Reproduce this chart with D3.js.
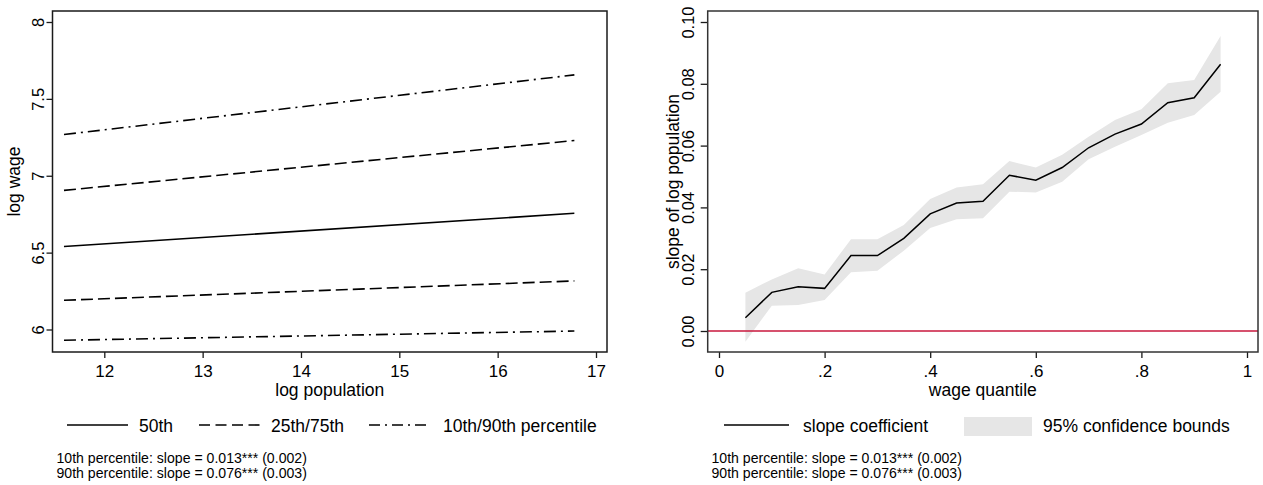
<!DOCTYPE html>
<html>
<head>
<meta charset="utf-8">
<script src="https://cdn.jsdelivr.net/npm/d3@7"></script>
<style>
  body { margin: 0; background: #fff; }
  svg text { font-family: "Liberation Sans", Arial, Helvetica, sans-serif; fill: #000; }
</style>
</head>
<body>
<svg id="chart" width="1263" height="485"></svg>
<script>
// left panel: fitted percentile lines over the log population range
var popRange = [11.59, 16.78];
var p10 = [5.93, 5.99];
var p25 = [6.19, 6.316];
var p50 = [6.54, 6.756];
var p75 = [6.905, 7.229];
var p90 = [7.268, 7.656];
var leftXTicks = [12, 13, 14, 15, 16, 17];
var leftYTicks = [6, 6.5, 7, 7.5, 8];

// right panel: slope by wage quantile with 95% bounds
var quantiles = [0.05, 0.10, 0.15, 0.20, 0.25, 0.30, 0.35, 0.40, 0.45, 0.50,
                 0.55, 0.60, 0.65, 0.70, 0.75, 0.80, 0.85, 0.90, 0.95];
var slope = [0.0043, 0.0125, 0.0143, 0.0138, 0.0244, 0.0244, 0.0300, 0.0379, 0.0414, 0.0420,
             0.0504, 0.0488, 0.0529, 0.0593, 0.0637, 0.0670, 0.0739, 0.0755, 0.0863];
var upper = [0.0124, 0.0167, 0.0203, 0.0183, 0.0297, 0.0297, 0.0343, 0.0427, 0.0464, 0.0475,
             0.0550, 0.0529, 0.0570, 0.0629, 0.0683, 0.0718, 0.0802, 0.0812, 0.0955];
var lower = [-0.0035, 0.0082, 0.0084, 0.0100, 0.0190, 0.0195, 0.0260, 0.0333, 0.0362, 0.0365,
             0.0451, 0.0448, 0.0483, 0.0556, 0.0596, 0.0634, 0.0674, 0.0699, 0.0774];
var rightXTicks = [0, 0.2, 0.4, 0.6, 0.8, 1];
var rightYTicks = [0, 0.02, 0.04, 0.06, 0.08, 0.10];

var notes = ["10th percentile: slope = 0.013*** (0.002)",
             "90th percentile: slope = 0.076*** (0.003)"];

var svg = d3.select("#chart");
var ink = "#1a1a1a";

// scales (box edges are a bit wider than the tick range, like stata)
var xL = d3.scaleLinear().domain([12, 17]).range([104.3, 596]);
var yL = d3.scaleLinear().domain([6, 8]).range([329.5, 22]);
var xR = d3.scaleLinear().domain([0, 1]).range([719, 1247]);
var yR = d3.scaleLinear().domain([0, 0.1]).range([331, 22]);

var boxL = { x0: 52.5, x1: 607, y0: 11, y1: 352 };
var boxR = { x0: 707.7, x1: 1258, y0: 11, y1: 352 };

function drawAxes(box, xs, ys, xt, yt, xfmt, yfmt, ytickLen, ylabGap) {
  var gx = svg.append("g")
    .attr("transform", "translate(0," + box.y1 + ")")
    .call(d3.axisBottom(xs).tickValues(xt).tickFormat(xfmt).tickSize(6).tickSizeOuter(0));
  gx.select(".domain").remove();
  gx.selectAll("line").attr("stroke", ink).attr("stroke-width", 1.3);
  gx.selectAll("text").attr("y", 25).attr("dy", null)
    .attr("font-size", "17px").attr("fill", "#000");

  var gy = svg.append("g")
    .attr("transform", "translate(" + box.x0 + ",0)")
    .call(d3.axisLeft(ys).tickValues(yt).tickFormat(yfmt).tickSize(ytickLen).tickSizeOuter(0));
  gy.select(".domain").remove();
  gy.selectAll("line").attr("stroke", ink).attr("stroke-width", 1.3);
  gy.selectAll("text")
    .attr("transform", "rotate(-90)")
    .attr("x", 0).attr("y", -ylabGap).attr("dy", null)
    .attr("text-anchor", "middle")
    .attr("font-size", "16.5px").attr("fill", "#000");
}

// ---------- left panel ----------
drawAxes(boxL, xL, yL, leftXTicks, leftYTicks, d3.format("d"), function (d) { return String(d); }, 6, 9);

var series = [
  { vals: p90, dash: "12,5,2,5" },
  { vals: p75, dash: "12,5" },
  { vals: p50, dash: null },
  { vals: p25, dash: "12,5" },
  { vals: p10, dash: "12,5,2,5" }
];
var lineL = d3.line().x(function (d) { return xL(d[0]); }).y(function (d) { return yL(d[1]); });
svg.selectAll("path.pct")
  .data(series)
  .enter()
  .append("path")
  .attr("class", "pct")
  .attr("d", function (s) { return lineL(popRange.map(function (x, i) { return [x, s.vals[i]]; })); })
  .attr("fill", "none")
  .attr("stroke", "#000")
  .attr("stroke-width", 1.6)
  .attr("stroke-dasharray", function (s) { return s.dash; });

svg.append("rect")
  .attr("x", boxL.x0).attr("y", boxL.y0)
  .attr("width", boxL.x1 - boxL.x0).attr("height", boxL.y1 - boxL.y0)
  .attr("fill", "none").attr("stroke", ink).attr("stroke-width", 1.5);

svg.append("text").attr("x", (boxL.x0 + boxL.x1) / 2).attr("y", 396)
  .attr("text-anchor", "middle").attr("font-size", "17.5px").text("log population");
svg.append("text").attr("transform", "translate(20," + ((boxL.y0 + boxL.y1) / 2) + ") rotate(-90)")
  .attr("text-anchor", "middle").attr("font-size", "17.5px").text("log wage");

// legend left
var legL = [
  { x0: 67, x1: 128, tx: 139, dash: null, label: "50th" },
  { x0: 199, x1: 260, tx: 271, dash: "11,5.5", label: "25th/75th" },
  { x0: 369, x1: 430, tx: 443, dash: "11,5,2,5", label: "10th/90th percentile" }
];
var lg = svg.selectAll("g.legL").data(legL).enter().append("g").attr("class", "legL");
lg.append("line")
  .attr("x1", function (d) { return d.x0; }).attr("x2", function (d) { return d.x1; })
  .attr("y1", 425).attr("y2", 425)
  .attr("stroke", "#000").attr("stroke-width", 1.6)
  .attr("stroke-dasharray", function (d) { return d.dash; });
lg.append("text")
  .attr("x", function (d) { return d.tx; }).attr("y", 431.5)
  .attr("font-size", "17.5px").text(function (d) { return d.label; });

// ---------- right panel ----------
function qfmt(d) {
  if (d === 0) return "0";
  if (d === 1) return "1";
  return d3.format(".1f")(d).replace(/^0/, "");
}
drawAxes(boxR, xR, yR, rightXTicks, rightYTicks, qfmt, d3.format(".2f"), 7, 14);

var rows = quantiles.map(function (q, i) { return { q: q, b: slope[i], lo: lower[i], hi: upper[i] }; });

svg.append("path")
  .datum(rows)
  .attr("d", d3.area()
    .x(function (d) { return xR(d.q); })
    .y0(function (d) { return yR(d.lo); })
    .y1(function (d) { return yR(d.hi); }))
  .attr("fill", "#e6e6e6");

svg.append("line")
  .attr("x1", boxR.x0).attr("x2", boxR.x1)
  .attr("y1", yR(0)).attr("y2", yR(0))
  .attr("stroke", "#c8173c").attr("stroke-width", 1.4);

svg.append("path")
  .datum(rows)
  .attr("d", d3.line().x(function (d) { return xR(d.q); }).y(function (d) { return yR(d.b); }))
  .attr("fill", "none").attr("stroke", "#000").attr("stroke-width", 1.5);

svg.append("rect")
  .attr("x", boxR.x0).attr("y", boxR.y0)
  .attr("width", boxR.x1 - boxR.x0).attr("height", boxR.y1 - boxR.y0)
  .attr("fill", "none").attr("stroke", "#333").attr("stroke-width", 1.5);

svg.append("text").attr("x", (boxR.x0 + boxR.x1) / 2).attr("y", 396)
  .attr("text-anchor", "middle").attr("font-size", "17.5px").text("wage quantile");
svg.append("text").attr("transform", "translate(679," + ((boxR.y0 + boxR.y1) / 2) + ") rotate(-90)")
  .attr("text-anchor", "middle").attr("font-size", "17.5px").text("slope of log population");

// legend right
svg.append("line").attr("x1", 724).attr("x2", 789).attr("y1", 425).attr("y2", 425)
  .attr("stroke", "#000").attr("stroke-width", 1.6);
svg.append("text").attr("x", 803).attr("y", 431.5).attr("font-size", "17.5px").text("slope coefficient");
svg.append("rect").attr("x", 964).attr("y", 417).attr("width", 68).attr("height", 19).attr("fill", "#e6e6e6");
svg.append("text").attr("x", 1043).attr("y", 431.5).attr("font-size", "17.5px").text("95% confidence bounds");

// notes under both panels
[56.5, 711.5].forEach(function (nx) {
  svg.selectAll(null).data(notes).enter().append("text")
    .attr("x", nx)
    .attr("y", function (d, i) { return 463 + i * 14.5; })
    .attr("font-size", "14.1px")
    .text(function (d) { return d; });
});
</script>
</body>
</html>
